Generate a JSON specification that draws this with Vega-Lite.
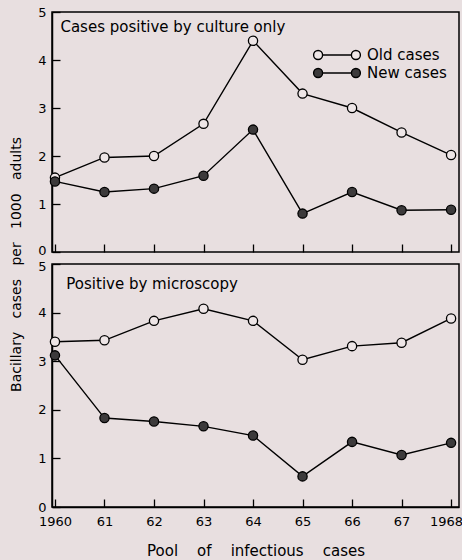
{
  "$schema": "https://vega.github.io/schema/vega-lite/v6.json",
  "background": "#e8dfe0",
  "padding": {"left": 8, "top": 5, "right": 1, "bottom": 2},
  "bounds": "flush",
  "spacing": 12,
  "datasets": {
    "pts": [
      {"panel": "culture", "series": "Old cases", "year": 1960, "value": 1.55},
      {"panel": "culture", "series": "Old cases", "year": 1961, "value": 1.97},
      {"panel": "culture", "series": "Old cases", "year": 1962, "value": 2.0},
      {"panel": "culture", "series": "Old cases", "year": 1963, "value": 2.67},
      {"panel": "culture", "series": "Old cases", "year": 1964, "value": 4.4},
      {"panel": "culture", "series": "Old cases", "year": 1965, "value": 3.3},
      {"panel": "culture", "series": "Old cases", "year": 1966, "value": 3.0},
      {"panel": "culture", "series": "Old cases", "year": 1967, "value": 2.49},
      {"panel": "culture", "series": "Old cases", "year": 1968, "value": 2.02},
      {"panel": "culture", "series": "New cases", "year": 1960, "value": 1.47},
      {"panel": "culture", "series": "New cases", "year": 1961, "value": 1.25},
      {"panel": "culture", "series": "New cases", "year": 1962, "value": 1.32},
      {"panel": "culture", "series": "New cases", "year": 1963, "value": 1.59},
      {"panel": "culture", "series": "New cases", "year": 1964, "value": 2.55},
      {"panel": "culture", "series": "New cases", "year": 1965, "value": 0.8},
      {"panel": "culture", "series": "New cases", "year": 1966, "value": 1.25},
      {"panel": "culture", "series": "New cases", "year": 1967, "value": 0.87},
      {"panel": "culture", "series": "New cases", "year": 1968, "value": 0.88},
      {"panel": "microscopy", "series": "Old cases", "year": 1960, "value": 3.4},
      {"panel": "microscopy", "series": "Old cases", "year": 1961, "value": 3.43},
      {"panel": "microscopy", "series": "Old cases", "year": 1962, "value": 3.83},
      {"panel": "microscopy", "series": "Old cases", "year": 1963, "value": 4.08},
      {"panel": "microscopy", "series": "Old cases", "year": 1964, "value": 3.83},
      {"panel": "microscopy", "series": "Old cases", "year": 1965, "value": 3.03},
      {"panel": "microscopy", "series": "Old cases", "year": 1966, "value": 3.31},
      {"panel": "microscopy", "series": "Old cases", "year": 1967, "value": 3.38},
      {"panel": "microscopy", "series": "Old cases", "year": 1968, "value": 3.88},
      {"panel": "microscopy", "series": "New cases", "year": 1960, "value": 3.12},
      {"panel": "microscopy", "series": "New cases", "year": 1961, "value": 1.83},
      {"panel": "microscopy", "series": "New cases", "year": 1962, "value": 1.76},
      {"panel": "microscopy", "series": "New cases", "year": 1963, "value": 1.66},
      {"panel": "microscopy", "series": "New cases", "year": 1964, "value": 1.47},
      {"panel": "microscopy", "series": "New cases", "year": 1965, "value": 0.63},
      {"panel": "microscopy", "series": "New cases", "year": 1966, "value": 1.34},
      {"panel": "microscopy", "series": "New cases", "year": 1967, "value": 1.07},
      {"panel": "microscopy", "series": "New cases", "year": 1968, "value": 1.32}
    ]
  },
  "vconcat": [
    {
      "width": 407,
      "height": 240,
      "data": {"name": "pts"},
      "transform": [{"filter": "datum.panel === 'culture'"}],
      "layer": [
        {
          "mark": {"type": "line", "color": "black", "strokeWidth": 1.4},
          "encoding": {
            "x": {"field": "year", "type": "quantitative", "scale": {"domain": [1959.94, 1968.16], "nice": false, "zero": false},
              "axis": {"values": [1960, 1961, 1962, 1963, 1964, 1965, 1966, 1967, 1968], "labels": false, "title": null, "tickSize": -8, "domain": false}},
            "y": {"field": "value", "type": "quantitative", "scale": {"domain": [0, 5], "nice": false},
              "axis": {"values": [0, 1, 2, 3, 4, 5], "title": "Bacillary\u00a0\u00a0\u00a0cases\u00a0\u00a0\u00a0per\u00a0\u00a0\u00a01000\u00a0\u00a0\u00a0adults", "titleX": -36, "titleY": 252, "titleAlign": "center", "titleBaseline": "middle", "titleAngle": 270, "titleFontSize": 14,
                "labelOffset": {"condition": {"test": "datum.value === 0", "value": -2}, "value": 0}}},
            "detail": {"field": "series"}
          }
        },
        {
          "mark": {"type": "point", "filled": true, "stroke": "black", "strokeWidth": 1.3, "size": 85, "opacity": 1},
          "encoding": {
            "x": {"field": "year", "type": "quantitative"},
            "y": {"field": "value", "type": "quantitative"},
            "fill": {"field": "series", "type": "nominal", "sort": ["Old cases", "New cases"],
              "scale": {"domain": ["Old cases", "New cases"], "range": ["#eee6e7", "#3c3a3b"]},
              "legend": {"title": null, "orient": "none", "legendX": 275, "legendY": 33,
                "symbolType": "M-2.1,0 m-0.5,0 a0.5,0.5 0 1,0 1,0 a0.5,0.5 0 1,0 -1,0 M-1.6,0 L1.6,0 M2.1,0 m-0.5,0 a0.5,0.5 0 1,0 1,0 a0.5,0.5 0 1,0 -1,0",
                "symbolSize": 324, "symbolStrokeColor": "black", "symbolStrokeWidth": 1.4, "symbolOpacity": 1,
                "labelFontSize": 15, "labelOffset": 20, "labelFont": "DejaVu Sans", "labelColor": "black", "rowPadding": 0, "padding": 0}}
          }
        },
        {
          "data": {"values": [{}]},
          "mark": {"type": "text", "align": "left", "baseline": "middle", "fontSize": 15, "font": "DejaVu Sans", "color": "black"},
          "encoding": {
            "x": {"datum": 1960.11},
            "y": {"datum": 4.69},
            "text": {"value": "Cases positive by culture only"}
          }
        }
      ]
    },
    {
      "width": 407,
      "height": 243,
      "data": {"name": "pts"},
      "transform": [{"filter": "datum.panel === 'microscopy'"}],
      "layer": [
        {
          "mark": {"type": "line", "color": "black", "strokeWidth": 1.4},
          "encoding": {
            "x": {"field": "year", "type": "quantitative", "scale": {"domain": [1959.94, 1968.16], "nice": false, "zero": false},
              "axis": {"values": [1960, 1961, 1962, 1963, 1964, 1965, 1966, 1967, 1968], "labelExpr": "datum.value === 1960 || datum.value === 1968 ? datum.label : substring(datum.label, 2)", "format": "d", "title": "Pool\u00a0\u00a0\u00a0\u00a0of\u00a0\u00a0\u00a0\u00a0infectious\u00a0\u00a0\u00a0\u00a0cases", "titleFontSize": 15, "tickSize": -8, "labelPadding": 16, "titlePadding": 15,
                "labelOffset": {"condition": {"test": "datum.value === 1968", "value": -5}, "value": 0}}},
            "y": {"field": "value", "type": "quantitative", "scale": {"domain": [0, 5], "nice": false},
              "axis": {"values": [0, 1, 2, 3, 4, 5], "title": null,
                "labelOffset": {"condition": {"test": "datum.value === 5", "value": 2}, "value": 0}}},
            "detail": {"field": "series"}
          }
        },
        {
          "mark": {"type": "point", "filled": true, "stroke": "black", "strokeWidth": 1.3, "size": 85, "opacity": 1},
          "encoding": {
            "x": {"field": "year", "type": "quantitative"},
            "y": {"field": "value", "type": "quantitative"},
            "fill": {"field": "series", "type": "nominal", "legend": null,
              "scale": {"domain": ["Old cases", "New cases"], "range": ["#eee6e7", "#3c3a3b"]}}
          }
        },
        {
          "data": {"values": [{}]},
          "mark": {"type": "text", "align": "left", "baseline": "middle", "fontSize": 15, "font": "DejaVu Sans", "color": "black"},
          "encoding": {
            "x": {"datum": 1960.23},
            "y": {"datum": 4.59},
            "text": {"value": "Positive by microscopy"}
          }
        }
      ]
    }
  ],
  "resolve": {"scale": {"fill": "independent"}},
  "config": {
    "font": "DejaVu Sans",
    "view": {"stroke": "black", "strokeWidth": 1.5},
    "axis": {
      "grid": false,
      "domainColor": "black",
      "domainWidth": 1.5,
      "tickColor": "black",
      "tickWidth": 1.3,
      "labelColor": "black",
      "titleColor": "black",
      "labelFont": "DejaVu Sans",
      "titleFont": "DejaVu Sans",
      "labelFontSize": 13,
      "titleFontSize": 14,
      "titleFontWeight": "normal"
    },
    "axisY": {"tickSize": -8, "labelPadding": 14}
  }
}
